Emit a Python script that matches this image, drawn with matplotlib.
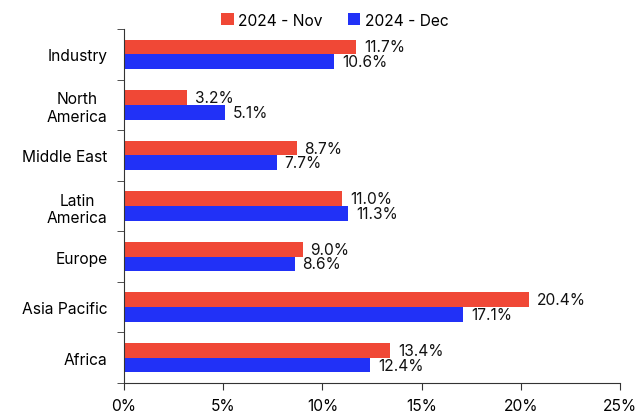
import matplotlib
matplotlib.use("Agg")
import matplotlib.pyplot as plt
import numpy as np
from matplotlib.ticker import FixedLocator, PercentFormatter

plt.rcParams['font.family'] = ['Inter', 'DejaVu Sans']

categories = ["Industry", "North\nAmerica", "Middle East", "Latin\nAmerica", "Europe", "Asia Pacific", "Africa"]
nov = [11.7, 3.2, 8.7, 11.0, 9.0, 20.4, 13.4]
dec = [10.6, 5.1, 7.7, 11.3, 8.6, 17.1, 12.4]
series_names = ["2024 - Nov", "2024 - Dec"]
red = "#f04836"
blue = "#2131f7"

fig = plt.figure(figsize=(6.4, 4.14), dpi=100)
ax = fig.add_axes([124/640, 1-384/414, 496/640, 354/414])

n = len(categories)
y = np.arange(n)
h = 0.29
ax.barh(y - h/2, nov, height=h, color=red, label=series_names[0])
ax.barh(y + h/2, dec, height=h, color=blue, label=series_names[1])

for i in range(n):
    ax.text(nov[i] + 0.4, y[i] - h/2, f"{nov[i]:.1f}%", va="center", ha="left", fontsize=11.2, color="#111111")
    ax.text(dec[i] + 0.4, y[i] + h/2, f"{dec[i]:.1f}%", va="center", ha="left", fontsize=11.2, color="#111111")

ax.set_ylim(n - 0.5, -0.5)
ax.set_xlim(0, 25)
ax.set_yticks(y)
ax.set_yticklabels(categories, fontsize=11.2, ha="right", multialignment="center")
ax.yaxis.set_minor_locator(FixedLocator(np.arange(-0.5, n, 1.0)))
ax.tick_params(axis='y', which='major', length=0, pad=12)
ax.tick_params(axis='y', which='minor', length=5, color="#333333")
ax.set_xticks([0, 5, 10, 15, 20, 25])
ax.xaxis.set_major_formatter(PercentFormatter(decimals=0))
ax.tick_params(axis='x', length=5, labelsize=11.2, color="#333333", pad=6)

for s in ["top", "right"]:
    ax.spines[s].set_visible(False)
for s in ["left", "bottom"]:
    ax.spines[s].set_color("#333333")

fig.legend(loc="center", bbox_to_anchor=(335/640, 1-21/414), ncol=2, frameon=False,
           fontsize=11.2, handlelength=0.8, handleheight=0.8, handletextpad=0.3, columnspacing=1.6)

fig.savefig("out.png", dpi=100)
